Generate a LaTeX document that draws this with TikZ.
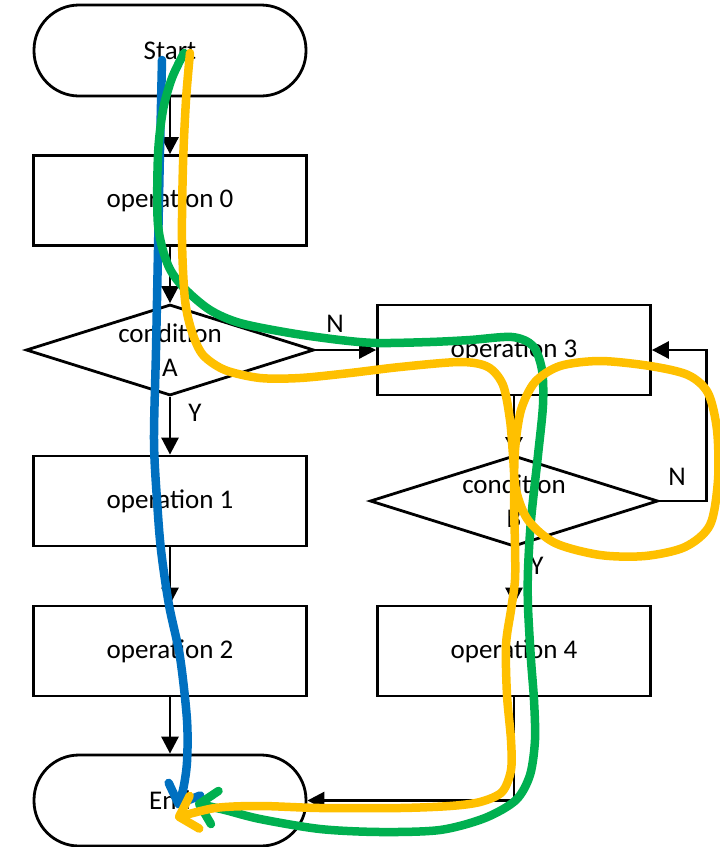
\documentclass[tikz,border=0pt]{standalone}
\usepackage{fontspec}
\setmainfont{Carlito}
\usetikzlibrary{shapes.geometric,arrows.meta}

\begin{document}
\begin{tikzpicture}[x=1pt,y=-1pt,
  txt/.style={font=\fontsize{27}{34}\selectfont},
  terminal/.style={txt, draw, line width=2.8pt, rectangle, rounded corners=45pt,
    minimum width=272pt, minimum height=91pt, inner sep=0pt},
  process/.style={txt, draw, line width=2.8pt, rectangle,
    minimum width=273pt, minimum height=90pt, inner sep=0pt},
  decision/.style={draw, diamond, line width=2.8pt,
    minimum width=288pt, minimum height=91pt, inner sep=0pt},
  tag/.style={txt, inner sep=0pt},
  flow/.style={line width=2.8pt, -{Triangle[length=17pt,width=17pt]}},
  trace/.style={line width=8.5pt, line cap=round, line join=round,
    -{Straight Barb[length=16pt,width=34pt,round]}},
]
\definecolor{pathblue}{HTML}{0070C0}
\definecolor{pathgreen}{HTML}{00B050}
\definecolor{pathyellow}{HTML}{FFC000}

\useasboundingbox (0,0) rectangle (720,847);

% left column
\node[terminal] (start) at (170,50.5) {Start};
\node[process]  (op0)   at (170,200.5) {operation 0};
\node[decision, label={[tag, align=center]center:condition\\A}] (condA) at (170,350) {};
\node[process]  (op1)   at (170,501) {operation 1};
\node[process]  (op2)   at (170,651) {operation 2};
\node[terminal] (end)   at (170,800.5) {End};

% right column
\node[process]  (op3)   at (514,350) {operation 3};
\node[decision, label={[tag, align=center]center:condition\\B}] (condB) at (514,501) {};
\node[process]  (op4)   at (514,651) {operation 4};

% control flow
\draw[flow] (start.south) -- (op0.north);
\draw[flow] (op0.south) -- (condA.north);
\draw[flow] (condA.south) -- (op1.north) node[tag] at (195,413) {Y};
\draw[flow] (op1.south) -- (op2.north);
\draw[flow] (op2.south) -- (end.north);
\draw[flow] (condA.east) -- (op3.west) node[tag] at (335,324) {N};
\draw[flow] (op3.south) -- (condB.north);
\draw[flow] (condB.south) -- (op4.north) node[tag] at (537,566) {Y};
\draw[flow] (condB.east) -- ++(47,0) |- (op3.east) node[tag] at (677,477) {N};
\draw[flow] (op4.south) |- (end.east);

% execution traces
\draw[trace, pathblue] plot[smooth] coordinates {
  (162,60) (160,150) (158,250) (156,350) (154,440) (157,500) (161,550)
  (169,605) (180,657) (187,720) (187,762) (183,790) (177,808)};

\draw[trace, pathgreen] plot[smooth] coordinates {
  (184,53) (172,78) (163,110) (158,155) (158,225) (168,265) (184,288)
  (210,310) (240,323) (290,333) (340,340) (377,343) (430,342) (470,340)
  (512,337) (533,346) (542,370) (543,405) (538,455) (531,520) (528,570)
  (528,607) (531,660) (534,700) (535,740) (530,775) (516,800) (485,818)
  (440,830) (380,832) (320,829) (260,819) (225,810) (195,803)};

\draw[trace, pathyellow] plot[smooth] coordinates {
  (190,53) (186,100) (183,165) (182,240) (185,300) (192,332) (203,355)
  (225,370) (260,378) (300,378) (350,373) (400,367) (460,362) (488,367)
  (503,385) (510,420) (513,455) (516,490) (528,520) (555,543) (600,555)
  (645,556) (685,547) (710,525) (718,480) (717,430) (708,393) (688,375)
  (650,366) (600,361) (560,366) (535,382) (521,410) (515,450) (514,500)
  (515,545) (515,580) (511,610) (506,645) (507,695) (511,740) (511,770)
  (502,792) (480,802) (450,806) (400,808) (320,808) (260,806) (215,808)
  (175,818)};
\end{tikzpicture}
\end{document}
